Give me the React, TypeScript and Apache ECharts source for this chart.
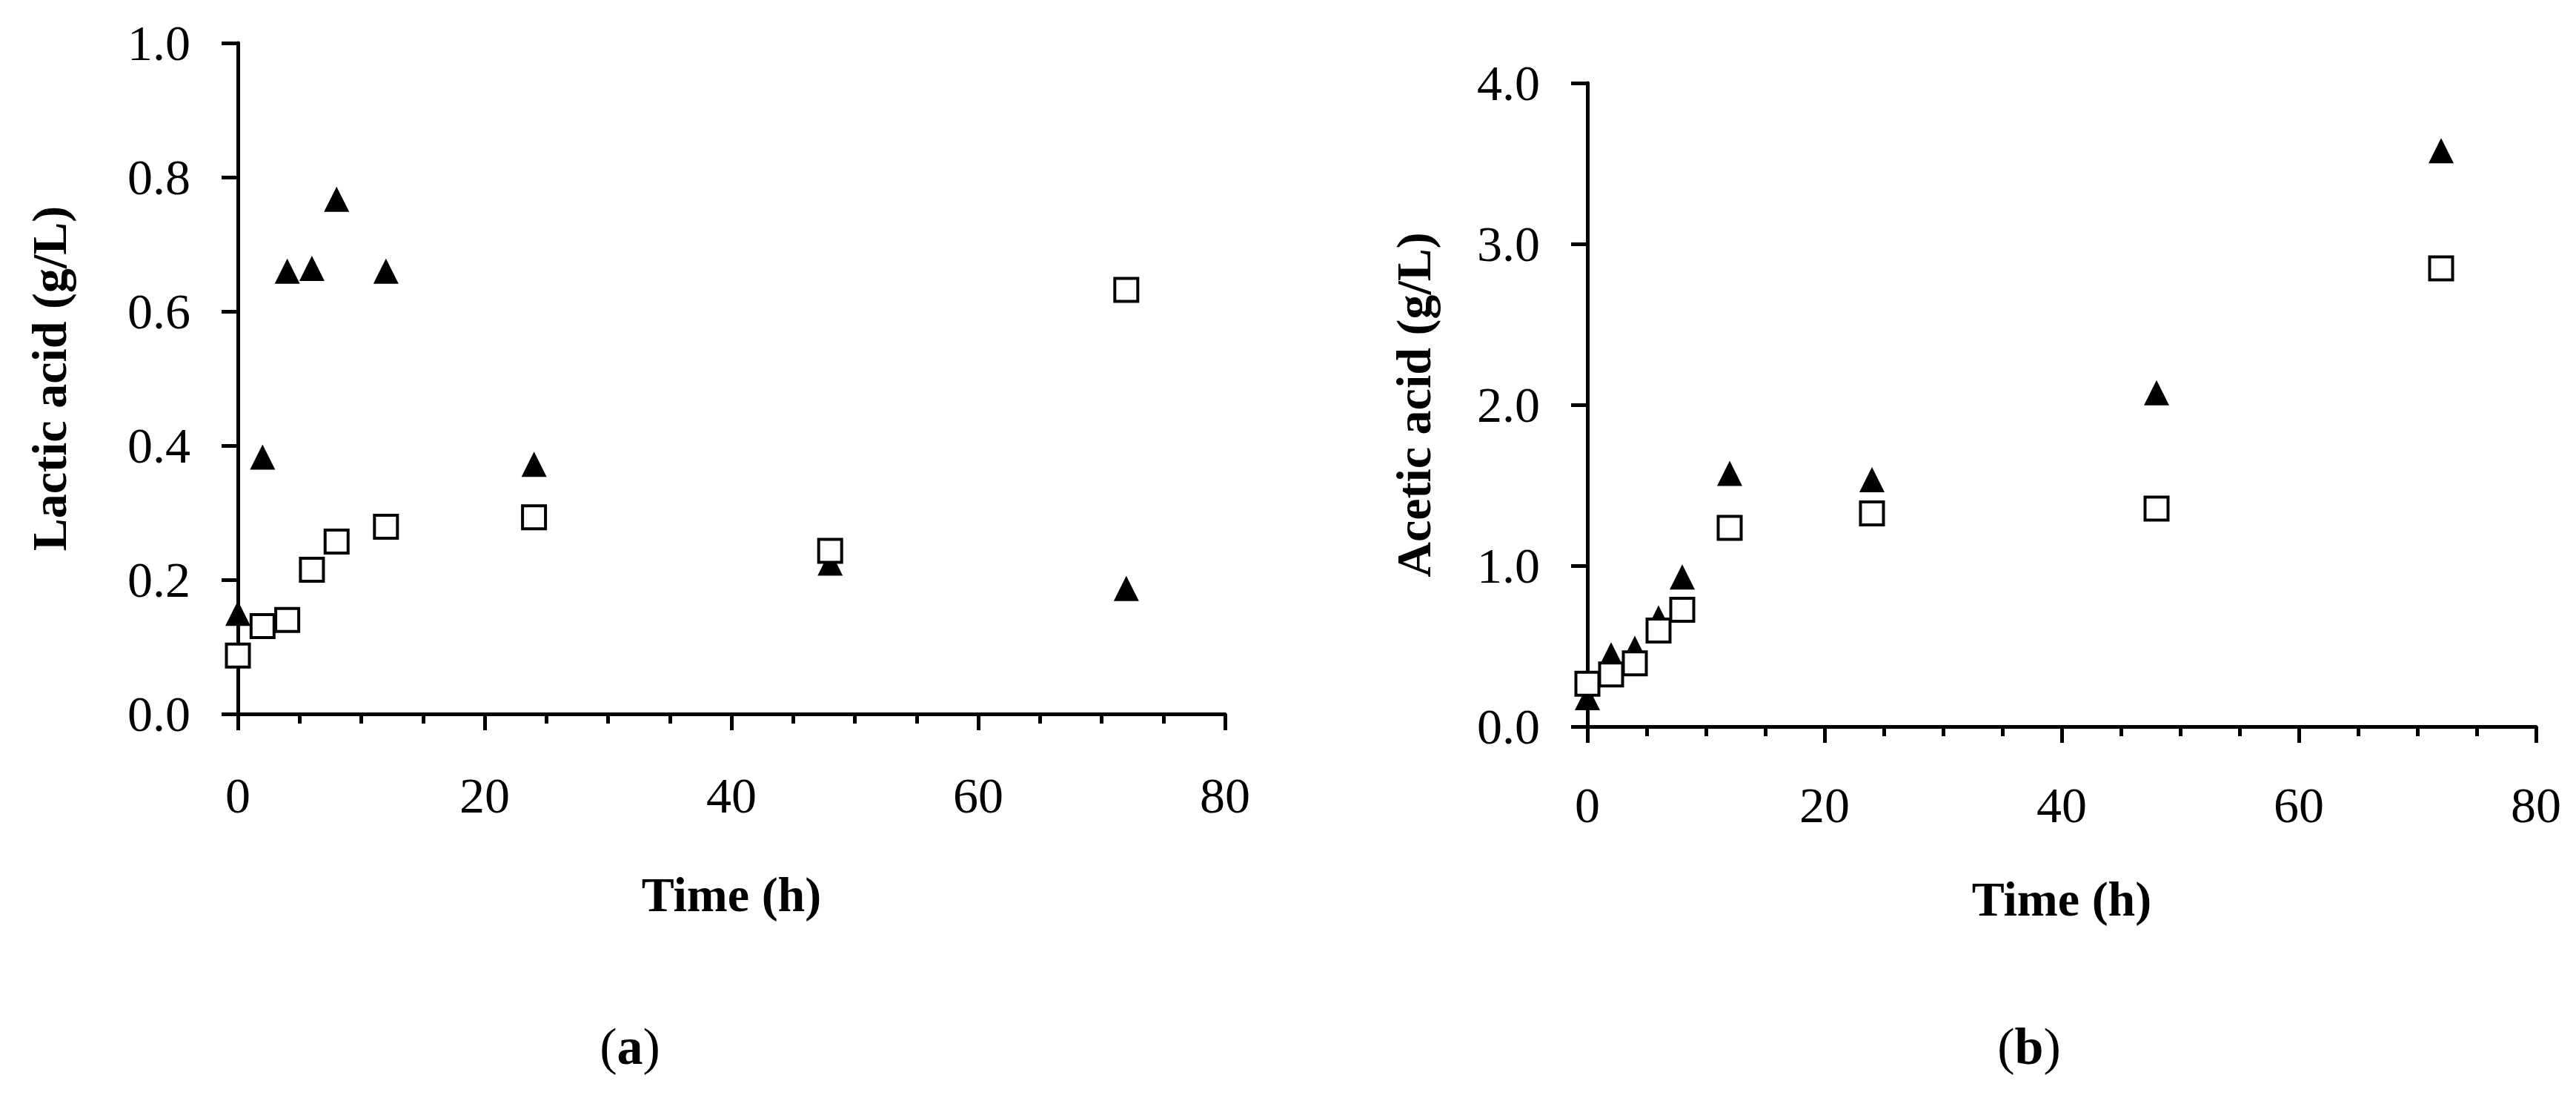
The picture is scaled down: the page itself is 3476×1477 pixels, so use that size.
import React, { useEffect, useRef } from "react";
import * as echarts from "echarts";

const times = [0, 2, 4, 6, 8, 12, 24, 48, 72];
const lacticTriangle = [0.15, 0.383, 0.66, 0.664, 0.767, 0.66, 0.372, 0.225, 0.187];
const lacticSquare = [0.087, 0.131, 0.14, 0.215, 0.257, 0.279, 0.293, 0.243, 0.632];
const aceticTriangle = [0.18, 0.446, 0.486, 0.675, 0.93, 1.574, 1.535, 2.075, 3.579];
const aceticSquare = [0.266, 0.324, 0.393, 0.597, 0.726, 1.235, 1.325, 1.355, 2.848];

const xTitle = "Time (h)";
const yTitles = ["Lactic acid (g/L)", "Acetic acid (g/L)"];
const panelLabels = ["a", "b"];

const FONT = "'Liberation Serif', 'Times New Roman', serif";

function pairs(xs: number[], ys: number[]) {
  return xs.map((x, i) => [x, ys[i]]);
}

function xAxisCfg(gridIndex: number, labelMargin: number, nameGap: number) {
  return {
    type: "value",
    gridIndex,
    min: 0,
    max: 80,
    interval: 20,
    axisLine: { show: true, onZero: false, lineStyle: { color: "#000", width: 5 } },
    axisTick: { show: true, inside: false, length: 22, lineStyle: { color: "#000", width: 5 } },
    minorTick: { show: true, splitNumber: 4, length: 13, lineStyle: { color: "#000", width: 5 } },
    splitLine: { show: false },
    minorSplitLine: { show: false },
    axisLabel: { margin: labelMargin, fontSize: 68, fontFamily: FONT, color: "#000" },
    name: xTitle,
    nameLocation: "middle",
    nameGap,
    nameTextStyle: { fontSize: 66, fontWeight: "bold", fontFamily: FONT, color: "#000" },
  };
}

function yAxisCfg(gridIndex: number, max: number, interval: number, name: string, nameGap: number) {
  return {
    type: "value",
    gridIndex,
    min: 0,
    max,
    interval,
    axisLine: { show: true, onZero: false, lineStyle: { color: "#000", width: 5 } },
    axisTick: { show: true, inside: false, length: 22, lineStyle: { color: "#000", width: 5 } },
    splitLine: { show: false },
    axisLabel: {
      margin: 64,
      fontSize: 68,
      fontFamily: FONT,
      color: "#000",
      formatter: (v: number) => v.toFixed(1),
    },
    name,
    nameLocation: "middle",
    nameGap,
    nameTextStyle: { fontSize: 66, fontWeight: "bold", fontFamily: FONT, color: "#000" },
  };
}

const triStyle = { color: "#000", opacity: 1 };
const sqStyle = { color: "#fff", borderColor: "#000", borderWidth: 4, opacity: 1 };

export default function App() {
  const ref = useRef<HTMLDivElement>(null);
  useEffect(() => {
    if (!ref.current) return;
    const chart = echarts.init(ref.current, null, { renderer: "svg" });
    chart.setOption({
      animation: false,
      backgroundColor: "#fff",
      grid: [
        { left: 321, top: 58, width: 1332, height: 905 },
        { left: 2142, top: 112, width: 1280, height: 868 },
      ],
      xAxis: [xAxisCfg(0, 76, 210), xAxisCfg(1, 72, 199)],
      yAxis: [
        yAxisCfg(0, 1.0, 0.2, yTitles[0], 222),
        yAxisCfg(1, 4.0, 1.0, yTitles[1], 202),
      ],
      series: [
        {
          type: "scatter",
          xAxisIndex: 0,
          yAxisIndex: 0,
          symbol: "triangle",
          symbolSize: 34,
          itemStyle: triStyle,
          data: pairs(times, lacticTriangle),
          z: 2,
        },
        {
          type: "scatter",
          xAxisIndex: 0,
          yAxisIndex: 0,
          symbol: "rect",
          symbolSize: 31,
          itemStyle: sqStyle,
          data: pairs(times, lacticSquare),
          z: 3,
        },
        {
          type: "scatter",
          xAxisIndex: 1,
          yAxisIndex: 1,
          symbol: "triangle",
          symbolSize: 34,
          itemStyle: triStyle,
          data: pairs(times, aceticTriangle),
          z: 2,
        },
        {
          type: "scatter",
          xAxisIndex: 1,
          yAxisIndex: 1,
          symbol: "rect",
          symbolSize: 31,
          itemStyle: sqStyle,
          data: pairs(times, aceticSquare),
          z: 3,
        },
      ],
      graphic: [
        {
          type: "text",
          x: 850,
          y: 1411,
          style: {
            text: "({b|" + panelLabels[0] + "})",
            fontSize: 70,
            fontFamily: FONT,
            fill: "#000",
            align: "center",
            verticalAlign: "middle",
            rich: { b: { fontSize: 70, fontWeight: "bold", fontFamily: FONT, fill: "#000" } },
          },
        },
        {
          type: "text",
          x: 2738,
          y: 1411,
          style: {
            text: "({b|" + panelLabels[1] + "})",
            fontSize: 70,
            fontFamily: FONT,
            fill: "#000",
            align: "center",
            verticalAlign: "middle",
            rich: { b: { fontSize: 70, fontWeight: "bold", fontFamily: FONT, fill: "#000" } },
          },
        },
      ],
    });
    return () => chart.dispose();
  }, []);
  return (
    <div
      ref={ref}
      style={{ position: "absolute", left: 0, top: 0, width: 3476, height: 1477, background: "#fff" }}
    />
  );
}
